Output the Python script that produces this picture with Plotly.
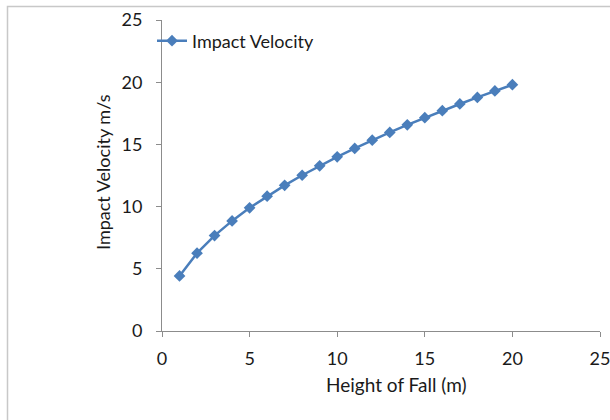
import plotly.graph_objects as go

height_m = [1, 2, 3, 4, 5, 6, 7, 8, 9, 10, 11, 12, 13, 14, 15, 16, 17, 18, 19, 20]
impact_velocity = [4.43, 6.26, 7.67, 8.85, 9.90, 10.84, 11.71, 12.52, 13.28, 14.00,
                   14.68, 15.34, 15.96, 16.57, 17.15, 17.71, 18.25, 18.78, 19.30, 19.80]
series_name = "Impact Velocity"
x_title = "Height of Fall (m)"
y_title = "Impact Velocity m/s"

FONT = "Lato, 'Noto Sans', sans-serif"
BLUE = "#4a7ebb"
AXIS = "#8c8c8c"
TXT = "#1a1a1a"

fig = go.Figure()
fig.add_trace(go.Scatter(
    x=height_m, y=impact_velocity, name=series_name,
    mode="lines+markers",
    line=dict(color=BLUE, width=2.5),
    marker=dict(symbol="diamond", size=9, color=BLUE),
))

axis_common = dict(
    showgrid=False, zeroline=False, showline=True, linecolor=AXIS, linewidth=1,
    ticks="outside", ticklen=5, tickcolor=AXIS, tickwidth=1,
    tickfont=dict(family=FONT, size=18, color=TXT),
    range=[0, 25], dtick=5, tick0=0, automargin=False,
    ticklabeloverflow="allow",
)

fig.update_layout(
    width=610, height=420,
    margin=dict(l=162, r=10, t=20, b=89),
    paper_bgcolor="white", plot_bgcolor="white",
    font=dict(family=FONT, size=18, color=TXT),
    xaxis=dict(**axis_common, ticklabelstandoff=6),
    yaxis=dict(**axis_common, ticklabelstandoff=10),
    showlegend=True,
    legend=dict(x=-10 / 438, y=(331 - 41) / 311, xanchor="left", yanchor="middle",
                bgcolor="rgba(0,0,0,0)", font=dict(family=FONT, size=18, color=TXT),
                itemwidth=30, tracegroupgap=0),
    annotations=[
        dict(text=x_title, xref="paper", yref="paper", x=(396 - 162) / 438, y=-(384 - 331) / 311,
             xanchor="center", yanchor="middle", showarrow=False,
             font=dict(family=FONT, size=19, color=TXT)),
        dict(text=y_title, xref="paper", yref="paper", x=-(162 - 103) / 438, y=(331 - 172) / 311,
             xanchor="center", yanchor="middle", showarrow=False, textangle=-90,
             font=dict(family=FONT, size=18, color=TXT)),
    ],
    shapes=[
        dict(type="rect", xref="paper", yref="paper",
             x0=-(162 - 7.5) / 438, x1=(620 - 162) / 438,
             y0=-(430 - 331) / 311, y1=(331 - 6.5) / 311,
             line=dict(color="#c8c8c8", width=1.5), layer="below"),
    ],
)

fig.write_html("out.html")
